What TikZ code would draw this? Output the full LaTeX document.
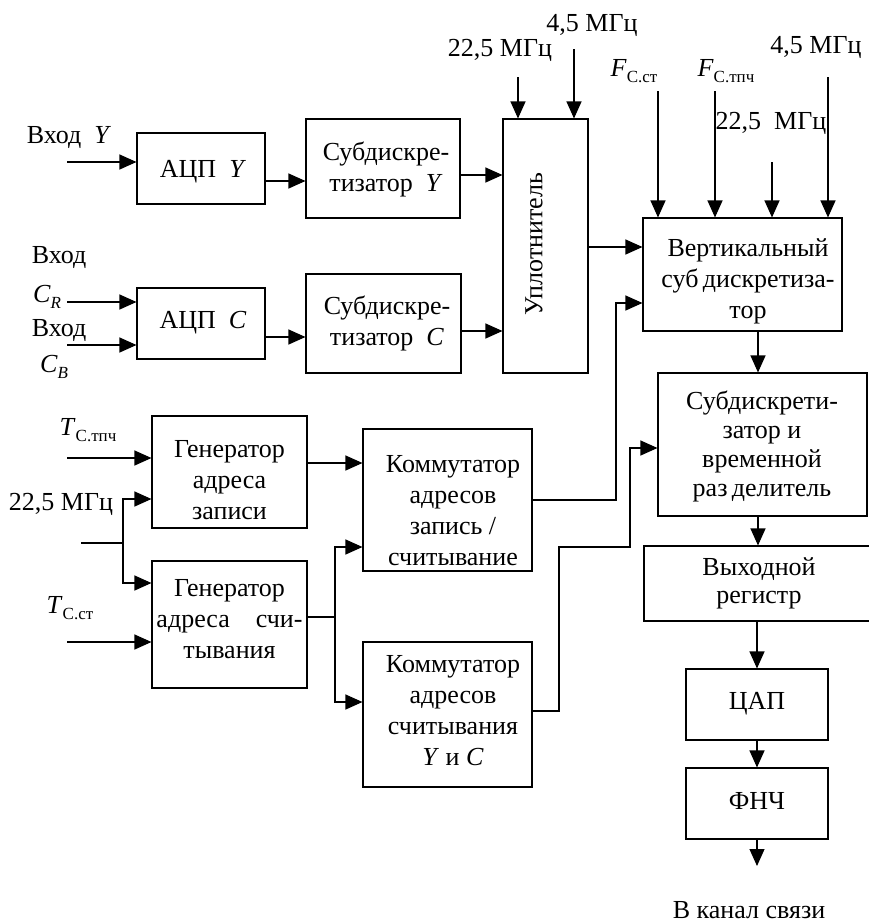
\documentclass[tikz,border=0pt]{standalone}
\usepackage{fontspec}
\setmainfont{Liberation Serif}
\usetikzlibrary{arrows.meta,calc}

\newcommand{\subtxt}[1]{\raisebox{-0.45ex}{\fontsize{17}{17}\selectfont #1}}

\begin{document}
\begin{tikzpicture}[x=1pt,y=-1pt,
  font=\fontsize{26}{31}\selectfont,
  every node/.append style={align=center},
  box/.style={draw,line width=1.1pt,inner sep=0pt},
  txt/.style={inner sep=0pt},
  wire/.style={line width=1.1pt},
  arr/.style={line width=1.1pt,-{Triangle[length=17pt,width=15pt]}},
  lbl/.style={inner sep=0pt}]
\useasboundingbox (0,0) rectangle (868,924);

% --- blocks ---------------------------------------------------------
\node[box,minimum width=128,minimum height=71] (adcY) at (201,168.5) {};
\node[txt] (adcYt) at (203,172) {АЦП\enspace\textit{Y}};
\node[box,minimum width=154,minimum height=99] (subY) at (383,168.5) {};
\node[txt] (subYt) at (386,169) {Субдискре-\\тизатор\enspace\textit{Y}};

\node[box,minimum width=128,minimum height=71] (adcC) at (201,323.5) {};
\node[txt] (adcCt) at (203,323) {АЦП\enspace\textit{C}};
\node[box,minimum width=155,minimum height=99] (subC) at (383.5,323.5) {};
\node[txt] (subCt) at (387,323) {Субдискре-\\тизатор\enspace\textit{C}};

\node[box,minimum width=85,minimum height=254] (upl) at (545.5,246) {};
\node[txt,rotate=90] (uplt) at (534,244) {Уплотнитель};

\node[box,minimum width=199,minimum height=113] (vert) at (742.5,274.5) {};
\node[txt] (vertt) at (748,281) {Вертикальный\\суб\,дискретиза-\\тор};

\node[box,minimum width=209,minimum height=143] (sub2) at (762.5,444.5) {};
\node[txt,font=\fontsize{26}{29}\selectfont] (sub2t) at (762,446) {Субдискрети-\\затор и\\временной\\раз\,делитель};

\node[box,minimum width=228,minimum height=75] (reg) at (758,583.5) {};
\node[txt,font=\fontsize{26}{28}\selectfont] (regt) at (759,583) {Выходной\\регистр};

\node[box,minimum width=142,minimum height=71] (dac) at (757,704.5) {};
\node[txt] (dact) at (757,704) {ЦАП};
\node[box,minimum width=142,minimum height=71] (lpf) at (757,803.5) {};
\node[txt] (lpft) at (757,801) {ФНЧ};

\node[box,minimum width=155,minimum height=112] (gen1) at (229.5,472) {};
\node[txt] (gen1t) at (229.5,480) {Генератор\\адреса\\записи};
\node[box,minimum width=155,minimum height=127] (gen2) at (229.5,624.5) {};
\node[txt] (gen2t) at (229.5,619) {Генератор\\адреса\enspace\enspace счи-\\тывания};

\node[box,minimum width=169,minimum height=142] (kom1) at (447.5,500) {};
\node[txt] (kom1t) at (453,511) {Коммутатор\\адресов\\запись /\\считывание};
\node[box,minimum width=169,minimum height=145] (kom2) at (447.5,714.5) {};
\node[txt] (kom2t) at (453,711) {Коммутатор\\адресов\\считывания\\\textit{Y} и \textit{C}};

% --- labels ---------------------------------------------------------
\node[lbl] (lYin) at (69,137) {Вход\enspace\textit{Y}};
\node[lbl] (lCRa) at (59,257) {Вход};
\node[lbl] (lCRb) at (47,297) {\textit{C}\subtxt{\textit{R}}};
\node[lbl] (lCBa) at (59,330) {Вход};
\node[lbl] (lCBb) at (54,367) {\textit{C}\subtxt{\textit{B}}};
\node[lbl] (lf1) at (500,50) {22,5 МГц};
\node[lbl] (lf2) at (592,25) {4,5 МГц};
\node[lbl] (lFst) at (634,71) {\textit{F}\subtxt{С.ст}};
\node[lbl] (lFtp) at (726,71) {\textit{F}\subtxt{С.тпч}};
\node[lbl] (lf3) at (771,123) {22,5\enspace МГц};
\node[lbl] (lf4) at (816,47) {4,5 МГц};
\node[lbl] (lTtp) at (88,430) {\textit{T}\subtxt{С.тпч}};
\node[lbl] (lf5) at (61,504) {22,5 МГц};
\node[lbl] (lTst) at (70,608) {\textit{T}\subtxt{С.ст}};
\node[lbl] (lout) at (749,910) {В канал связи};

% --- free ends of inputs -------------------------------------------
\coordinate (inY) at (67,162);
\coordinate (inCR) at (67,302);
\coordinate (inCB) at (67,345);
\coordinate (inU1) at (518,77);
\coordinate (inU2) at (574,49);
\coordinate (inV1) at (658,91);
\coordinate (inV2) at (715,91);
\coordinate (inV3) at (772,162);
\coordinate (inV4) at (828,77);
\coordinate (inT1) at (67,458);
\coordinate (inClk) at (81,543);
\coordinate (clkJ) at (123,543);
\coordinate (inT2) at (67,642);
\coordinate (genJ) at (335,617);
\coordinate (out) at (757,866);

% --- upper chain ----------------------------------------------------
\draw[arr] (inY) -- (inY -| adcY.west);
\draw[arr] (adcY.east |- 0,181) -- (subY.west |- 0,181);
\draw[arr] (subY.east |- 0,175) -- (upl.west |- 0,175);
\draw[arr] (inCR) -- (inCR -| adcC.west);
\draw[arr] (inCB) -- (inCB -| adcC.west);
\draw[arr] (adcC.east |- 0,337) -- (subC.west |- 0,337);
\draw[arr] (subC.east |- 0,331) -- (upl.west |- 0,331);
\draw[arr] (inU1) -- (inU1 |- upl.north);
\draw[arr] (inU2) -- (inU2 |- upl.north);
\draw[arr] (upl.east |- 0,247) -- (vert.west |- 0,247);
\draw[arr] (inV1) -- (inV1 |- vert.north);
\draw[arr] (inV2) -- (inV2 |- vert.north);
\draw[arr] (inV3) -- (inV3 |- vert.north);
\draw[arr] (inV4) -- (inV4 |- vert.north);

% --- output chain ---------------------------------------------------
\draw[arr] (vert.south -| 758,0) -- (sub2.north -| 758,0);
\draw[arr] (sub2.south -| 758,0) -- (reg.north -| 758,0);
\draw[arr] (reg.south -| 757,0) -- (dac.north);
\draw[arr] (dac.south) -- (lpf.north);
\draw[arr] (lpf.south) -- (out);

% --- address generators ---------------------------------------------
\draw[arr] (inT1) -- (inT1 -| gen1.west);
\draw[wire] (inClk) -- (clkJ);
\draw[arr] (clkJ) |- (gen1.west |- 0,499);
\draw[arr] (clkJ) |- (gen2.west |- 0,583);
\draw[arr] (inT2) -- (inT2 -| gen2.west);
\draw[arr] (gen1.east |- 0,463) -- (kom1.west |- 0,463);
\draw[wire] (gen2.east |- 0,617) -- (genJ);
\draw[arr] (genJ) |- (kom1.west |- 0,547);
\draw[arr] (genJ) |- (kom2.west |- 0,702);

% --- switch outputs -------------------------------------------------
\draw[arr] (kom1.east |- 0,500) -- (616,500) |- (vert.west |- 0,303);
\draw[arr] (kom2.east |- 0,711) -- (559,711) -- (559,547) -- (630,547) |- (sub2.west |- 0,448);
\end{tikzpicture}
\end{document}
